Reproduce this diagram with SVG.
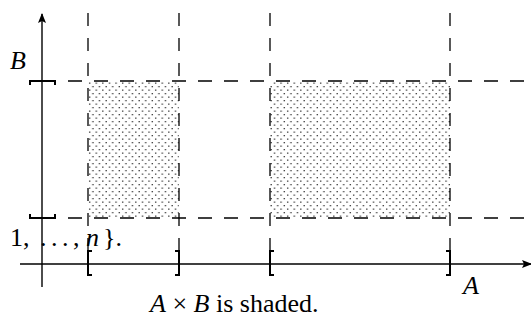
<svg xmlns="http://www.w3.org/2000/svg" width="531" height="320" viewBox="0 0 531 320">
<style>
.axis{stroke:#000;stroke-width:1.4;fill:none}
.dash{stroke:#000;stroke-width:1.3;fill:none;stroke-dasharray:14 12}
.vdash{stroke:#000;stroke-width:1.3;fill:none;stroke-dasharray:13 12}
.br{stroke:#000;stroke-width:2;fill:none}
.t{font-family:"Liberation Serif","Times New Roman",serif;font-size:26px;fill:#000}
.i{font-style:italic}
</style>
<defs>
<pattern id="dots" x="88" y="81" width="6.6" height="7" patternUnits="userSpaceOnUse">
<rect x="1" y="1.5" width="1.3" height="1.3" fill="#333"/>
<rect x="4.3" y="5" width="1.3" height="1.3" fill="#333"/>
</pattern>
<marker id="arr" markerWidth="10" markerHeight="8" refX="9" refY="4" orient="auto" markerUnits="userSpaceOnUse">
<path d="M0,0 L10,4 L0,8 L2,4 Z" fill="#000"/>
</marker>
</defs>
<g id="shaded">
<rect x="88" y="81" width="91" height="137" fill="url(#dots)"/>
<rect x="270" y="81" width="180" height="137" fill="url(#dots)"/>
</g>
<g id="connectors">
<line class="axis" x1="42" y1="287" x2="42" y2="14" marker-end="url(#arr)"/>
<line class="axis" x1="20" y1="264" x2="531" y2="264" marker-end="url(#arr)"/>
<line class="dash" x1="68" y1="81" x2="531" y2="81"/>
<line class="dash" x1="68" y1="218" x2="531" y2="218"/>
<line class="vdash" x1="88" y1="13" x2="88" y2="250"/>
<line class="vdash" x1="179" y1="13" x2="179" y2="250"/>
<line class="vdash" x1="270" y1="13" x2="270" y2="250"/>
<line class="vdash" x1="450" y1="13" x2="450" y2="250"/>
</g>
<g id="ticks">
<path class="br" d="M30,85 V81 H55 V85"/>
<path class="br" d="M30,214 V218 H55 V214"/>
<path class="br" d="M92,251 H88 V275 H92"/>
<path class="br" d="M175,251 H179 V275 H175"/>
<path class="br" d="M274,251 H270 V275 H274"/>
<path class="br" d="M446,251 H450 V275 H446"/>
</g>
<g id="labels">
<text class="t i" x="10" y="69">B</text>
<text class="t" y="246"><tspan x="10">1,</tspan><tspan x="40">.</tspan><tspan x="51">.</tspan><tspan x="62">.</tspan><tspan x="73">,</tspan><tspan x="86" class="i">n</tspan><tspan x="103">}.</tspan></text>
<text class="t i" x="463" y="294">A</text>
<text class="t" x="150" y="312"><tspan class="i">A</tspan> × <tspan class="i">B</tspan> is shaded.</text>
</g>
</svg>
